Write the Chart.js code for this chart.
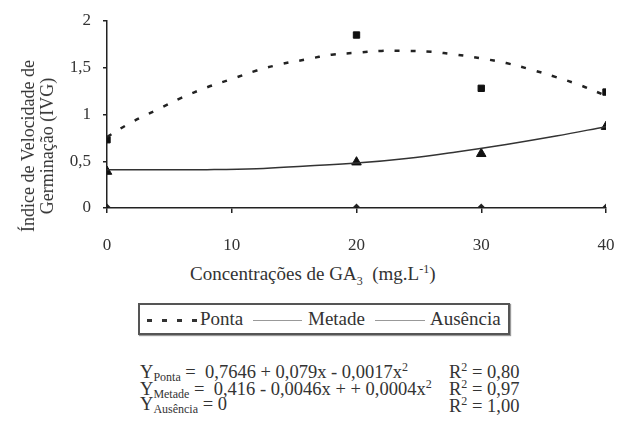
<!DOCTYPE html>
<html>
<head>
<meta charset="utf-8">
<script src="https://cdn.jsdelivr.net/npm/chart.js@4"></script>
<style>
  body { margin: 0; background: #fff; font-family: "Liberation Serif", "Times New Roman", "DejaVu Serif", serif; color: #333; }
  #wrap { position: relative; width: 618px; height: 426px; }
  #grafico { position: absolute; left: 0; top: 0; }
  .ytitle { position: absolute; left: 38px; top: 146px; transform: translate(-50%, -50%) rotate(-90deg);
            font-size: 18px; line-height: 19px; text-align: center; white-space: nowrap; }
  .xtitle { position: absolute; left: 190px; top: 262px; font-size: 19px; white-space: nowrap; }
  .legenda { position: absolute; left: 138px; top: 303px; width: 368px; height: 28px;
             border: 2px solid #555; box-shadow: 1px 1px 1px #999; font-size: 19px; }
  .legenda span { position: absolute; top: 3px; }
  .amostra { position: absolute; top: 15px; height: 1px; background: #999; }
  .tracejado { position: absolute; top: 14px; height: 3px;
               background: repeating-linear-gradient(90deg, #333 0 5px, transparent 5px 15px); }
  .eq { position: absolute; font-size: 18.5px; white-space: nowrap; }
  .eq sub { font-size: 12px; vertical-align: -3px; }
  .eq sup { font-size: 12px; vertical-align: 7px; }
</style>
</head>
<body>
<div id="wrap">
  <canvas id="grafico" width="618" height="260"></canvas>
  <div class="ytitle">Índice de Velocidade de<br>Germinação (IVG)</div>
  <div class="xtitle">Concentrações de GA<sub style="font-size:12px">3</sub>&nbsp; (mg.L<sup style="font-size:12px">-1</sup>)</div>
  <div class="legenda">
    <div class="tracejado" style="left:7px; width:50px;"></div>
    <span style="left:60px">Ponta</span>
    <div class="amostra" style="left:113px; width:49px;"></div>
    <span style="left:168px">Metade</span>
    <div class="amostra" style="left:235px; width:50px;"></div>
    <span style="left:290px">Ausência</span>
  </div>
  <div class="eq" style="left:140px; top:360px">Y<sub>Ponta</sub> = &nbsp;0,7646 + 0,079x - 0,0017x<sup>2</sup></div>
  <div class="eq" style="left:449px; top:360px">R<sup>2</sup> = 0,80</div>
  <div class="eq" style="left:140px; top:377px">Y<sub>Metade</sub> = &nbsp;0,416 - 0,0046x + + 0,0004x<sup>2</sup></div>
  <div class="eq" style="left:449px; top:377px">R<sup>2</sup> = 0,97</div>
  <div class="eq" style="left:140px; top:394px">Y<sub>Ausência</sub> = 0</div>
  <div class="eq" style="left:449px; top:394px">R<sup>2</sup> = 1,00</div>
</div>

<script>
// ========================
// DADOS
// ========================

const concentracoes = [0, 20, 30, 40];

const pontaObs = [0.73, 1.85, 1.28, 1.24];
const metadeObs = [0.39, 0.49, 0.58, 0.87];
const ausenciaObs = [0, 0, 0, 0];

// curvas ajustadas
const xCurvaPonta = [0, 2, 4, 6, 8, 10, 12, 14, 16, 18, 20, 22, 24, 26, 28, 30, 32, 34, 36, 38, 40];
const yCurvaPonta = [0.76, 0.92, 1.05, 1.18, 1.29, 1.38, 1.47, 1.54, 1.59, 1.64, 1.66, 1.68, 1.68, 1.67, 1.64, 1.6, 1.55, 1.48, 1.4, 1.31, 1.2];

const xCurvaMetade = [0, 4, 8, 12, 16, 20, 24, 28, 32, 36, 40];
const yCurvaMetade = [0.41, 0.41, 0.41, 0.42, 0.45, 0.48, 0.53, 0.6, 0.68, 0.77, 0.87];

const ticksY = [0, 0.5, 1, 1.5, 2];
const ticksX = [0, 10, 20, 30, 40];

const pares = (xs, ys) => xs.map((x, i) => ({ x: x, y: ys[i] }));

const fonteTicks = { family: '"Liberation Serif", "Times New Roman", serif', size: 17 };

function semPadding(s) {
  s.paddingLeft = 0;
  s.paddingRight = 0;
  s.paddingTop = 0;
  s.paddingBottom = 0;
}

// ========================
// GRÁFICO
// ========================

new Chart(document.getElementById("grafico"), {
  type: "scatter",

  data: {
    datasets: [
      {
        label: "Ponta ajuste",
        data: pares(xCurvaPonta, yCurvaPonta),
        showLine: true,
        borderColor: "#222",
        borderWidth: 2.5,
        borderDash: [5, 11],
        pointRadius: 0,
        tension: 0.4,
      },
      {
        label: "Metade ajuste",
        data: pares(xCurvaMetade, yCurvaMetade),
        showLine: true,
        borderColor: "#333",
        borderWidth: 1.5,
        pointRadius: 0,
        tension: 0.4,
      },
      {
        label: "Ausência",
        data: pares(concentracoes, ausenciaObs),
        showLine: true,
        borderColor: "#222",
        borderWidth: 2,
        pointStyle: "rectRot",
        pointRadius: 3,
        backgroundColor: "#111",
      },
      {
        label: "Ponta",
        data: pares(concentracoes, pontaObs),
        pointStyle: "rect",
        pointRadius: 4.5,
        backgroundColor: "#111",
        borderColor: "#111",
      },
      {
        label: "Metade",
        data: pares(concentracoes, metadeObs),
        pointStyle: "triangle",
        pointRadius: 5.5,
        backgroundColor: "#111",
        borderColor: "#111",
      },
    ],
  },

  options: {
    responsive: false,
    animation: false,
    layout: { padding: { top: 21, right: 12, left: 0, bottom: 0 } },
    plugins: { legend: { display: false }, tooltip: { enabled: false } },
    scales: {
      x: {
        type: "linear",
        min: 0,
        max: 40,
        afterFit: (s) => { s.height = 52; semPadding(s); },
        afterBuildTicks: (s) => { s.ticks = ticksX.map((v) => ({ value: v })); },
        grid: { drawOnChartArea: false, drawTicks: true, tickLength: 5, color: "#222", lineWidth: 1.5 },
        border: { display: true, color: "#222", width: 1.5 },
        ticks: { color: "#333", font: fonteTicks, padding: 22, maxRotation: 0 },
      },
      y: {
        min: 0,
        max: 2,
        afterFit: (s) => { s.width = 107; semPadding(s); },
        afterBuildTicks: (s) => { s.ticks = ticksY.map((v) => ({ value: v })); },
        grid: { drawOnChartArea: false, drawTicks: true, tickLength: 4, color: "#222", lineWidth: 1.5 },
        border: { display: true, color: "#222", width: 1.5 },
        ticks: {
          color: "#333",
          font: fonteTicks,
          padding: 12,
          callback: (v) => String(v).replace(".", ","),
        },
      },
    },
  },
});
</script>
</body>
</html>
